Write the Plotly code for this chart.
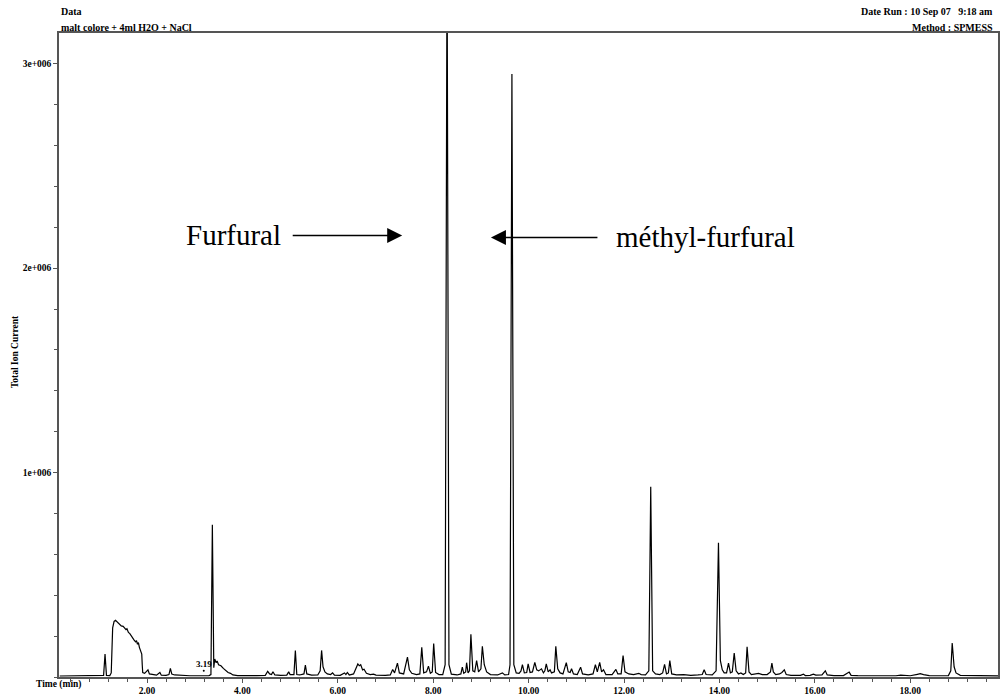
import plotly.graph_objects as go

# Total ion current trace: retention time (min) and intensity (counts)
rt_min = [
    0.17, 0.60, 1.05, 1.09, 1.12, 1.15, 1.22, 1.25, 1.28, 1.31, 1.34, 1.38, 1.42, 1.46, 1.50,
    1.53, 1.56, 1.58, 1.61, 1.64, 1.67, 1.70, 1.73, 1.76, 1.78, 1.80, 1.82, 1.84, 1.87, 1.89,
    1.90, 1.91, 1.95, 1.98, 2.02, 2.05, 2.12, 2.20, 2.27, 2.30, 2.40, 2.46, 2.49, 2.52, 2.58,
    2.70, 2.90, 3.10, 3.30, 3.34, 3.37, 3.40, 3.42, 3.45, 3.47, 3.50, 3.55, 3.60, 3.65, 3.70,
    3.75, 3.80, 3.90, 4.10, 4.30, 4.48, 4.53, 4.57, 4.61, 4.64, 4.68, 4.80, 4.93, 4.97, 5.00,
    5.08, 5.11, 5.14, 5.20, 5.29, 5.32, 5.35, 5.45, 5.58, 5.63, 5.66, 5.69, 5.73, 5.78, 5.85,
    5.89, 5.93, 6.05, 6.14, 6.17, 6.20, 6.24, 6.33, 6.38, 6.42, 6.45, 6.48, 6.52, 6.55, 6.60,
    6.68, 6.75, 6.80, 7.00, 7.10, 7.15, 7.19, 7.25, 7.29, 7.38, 7.46, 7.50, 7.55, 7.65, 7.72,
    7.76, 7.80, 7.86, 7.90, 7.94, 7.98, 8.01, 8.05, 8.12, 8.20, 8.25, 8.29, 8.33, 8.38, 8.50,
    8.58, 8.61, 8.64, 8.68, 8.70, 8.73, 8.76, 8.79, 8.83, 8.87, 8.91, 8.95, 9.00, 9.03, 9.07,
    9.12, 9.20, 9.35, 9.45, 9.50, 9.58, 9.61, 9.65, 9.69, 9.74, 9.80, 9.84, 9.87, 9.91, 9.96,
    9.99, 10.03, 10.08, 10.13, 10.17, 10.21, 10.27, 10.31, 10.34, 10.37, 10.41, 10.45, 10.48, 10.54, 10.57,
    10.61, 10.66, 10.72, 10.79, 10.83, 10.87, 10.90, 10.94, 11.02, 11.09, 11.13, 11.25, 11.35, 11.40, 11.44,
    11.49, 11.53, 11.57, 11.62, 11.75, 11.83, 11.87, 11.94, 11.98, 12.02, 12.10, 12.20, 12.31, 12.36, 12.45,
    12.52, 12.56, 12.60, 12.66, 12.75, 12.81, 12.85, 12.89, 12.93, 12.96, 13.00, 13.10, 13.25, 13.40, 13.55,
    13.64, 13.68, 13.72, 13.85, 13.93, 13.98, 14.02, 14.06, 14.10, 14.15, 14.19, 14.23, 14.27, 14.31, 14.35,
    14.40, 14.45, 14.50, 14.55, 14.58, 14.62, 14.67, 14.75, 14.82, 14.90, 15.00, 15.07, 15.10, 15.13, 15.18,
    15.26, 15.31, 15.36, 15.40, 15.50, 15.70, 15.76, 15.80, 15.90, 15.97, 16.02, 16.15, 16.22, 16.26, 16.40,
    16.60, 16.72, 16.76, 16.90, 17.10, 17.40, 17.70, 17.80, 18.00, 18.15, 18.21, 18.28, 18.40, 18.60, 18.80,
    18.85, 18.88, 18.92, 18.96, 19.05, 19.20, 19.50, 19.85,
]
tic_counts = [
    5000, 5000, 6000, 8000, 112000, 8000, 7000, 20000, 240000, 272000, 277000, 268000, 262000, 250000, 248000,
    238000, 232000, 236000, 218000, 212000, 200000, 195000, 180000, 172000, 178000, 160000, 168000, 145000, 125000, 112000,
    60000, 22000, 18000, 25000, 35000, 15000, 12000, 9000, 22000, 9000, 8000, 12000, 42000, 14000, 10000,
    8000, 6000, 6000, 7000, 12000, 745000, 45000, 88000, 70000, 78000, 60000, 55000, 42000, 30000, 22000,
    18000, 10000, 7000, 6000, 7000, 8000, 28000, 15000, 12000, 26000, 10000, 8000, 9000, 25000, 12000,
    12000, 130000, 12000, 10000, 15000, 58000, 15000, 9000, 10000, 30000, 130000, 50000, 25000, 15000, 12000,
    20000, 9000, 8000, 20000, 12000, 22000, 10000, 15000, 45000, 64000, 55000, 60000, 35000, 38000, 18000,
    12000, 14000, 9000, 8000, 10000, 37000, 20000, 68000, 20000, 15000, 97000, 35000, 18000, 12000, 15000,
    145000, 20000, 25000, 53000, 18000, 25000, 164000, 22000, 12000, 12000, 60000, 3600000, 60000, 14000, 10000,
    15000, 48000, 18000, 25000, 70000, 20000, 30000, 209000, 30000, 25000, 80000, 25000, 40000, 150000, 60000,
    25000, 12000, 10000, 20000, 10000, 12000, 60000, 2950000, 60000, 20000, 18000, 30000, 60000, 20000, 22000,
    64000, 22000, 25000, 72000, 35000, 30000, 40000, 20000, 30000, 64000, 25000, 35000, 20000, 25000, 150000,
    40000, 20000, 15000, 70000, 25000, 22000, 40000, 15000, 12000, 48000, 15000, 10000, 15000, 60000, 25000,
    72000, 25000, 35000, 12000, 12000, 37000, 15000, 15000, 105000, 25000, 15000, 12000, 18000, 12000, 10000,
    30000, 930000, 30000, 15000, 12000, 20000, 62000, 15000, 20000, 80000, 15000, 10000, 12000, 8000, 10000,
    12000, 35000, 12000, 10000, 30000, 657000, 80000, 35000, 20000, 20000, 68000, 20000, 25000, 117000, 30000,
    15000, 20000, 12000, 20000, 148000, 25000, 12000, 15000, 18000, 12000, 12000, 25000, 68000, 25000, 12000,
    15000, 22000, 35000, 12000, 8000, 8000, 14000, 7000, 8000, 14000, 9000, 10000, 30000, 10000, 7000,
    7000, 24000, 8000, 7000, 6000, 7000, 6000, 9000, 6000, 13000, 16000, 12000, 7000, 6000, 7000,
    30000, 166000, 50000, 20000, 8000, 8000, 6000, 5000,
]

x_tick_vals = [2, 4, 6, 8, 10, 12, 14, 16, 18]
x_tick_text = ["2.00", "4.00", "6.00", "8.00", "10.00", "12.00", "14.00", "16.00", "18.00"]
y_tick_vals = [1e6, 2e6, 3e6]
y_tick_text = ["1e+006", "2e+006", "3e+006"]

# Retention-time marker written by the acquisition software
marked_rt = [3.19]
marked_rt_text = ["3.19"]

# Labelled compounds with the point each arrow indicates
peak_labels = ["Furfural", "méthyl-furfural"]
peak_label_tip_rt = [7.35, 9.21]
peak_label_tip_y = [2.16e6, 2.15e6]

SERIF = "Liberation Serif, Times New Roman, serif"
AXIS_COLOR = "#555555"

fig = go.Figure()
fig.add_trace(
    go.Scatter(
        x=rt_min,
        y=tic_counts,
        mode="lines",
        line=dict(color="black", width=1.2),
        hoverinfo="x+y",
        showlegend=False,
    )
)
# small dot under the retention-time marker label
fig.add_trace(
    go.Scatter(
        x=marked_rt,
        y=[30000] * len(marked_rt),
        mode="markers",
        marker=dict(color="black", size=2),
        hoverinfo="skip",
        showlegend=False,
    )
)

# Plot area geometry in pixels (used for paper-coordinate annotations)
L, R, T, B = 59, 1000, 33, 685


def px_x(px):
    return (px - L) / (R - L)


def px_y(py):
    return (B - py) / (B - T)


small_bold = dict(family=SERIF, size=9.5, color="black", weight="bold")
header_bold = dict(family=SERIF, size=10, color="black", weight="bold")
label_font = dict(family=SERIF, size=29, color="black")

annotations = [
    dict(text="Data", x=px_x(59), y=px_y(11), xref="paper", yref="paper",
         xanchor="left", yanchor="middle", showarrow=False, font=header_bold),
    dict(text="malt colore + 4ml H2O + NaCl", x=px_x(59), y=px_y(27), xref="paper", yref="paper",
         xanchor="left", yanchor="middle", showarrow=False, font=header_bold),
    dict(text="Date Run : 10 Sep 07\u00a0\u00a0\u00a09:18 am", x=px_x(997), y=px_y(11),
         xref="paper", yref="paper", xanchor="right", yanchor="middle", showarrow=False,
         font=header_bold),
    dict(text="Method : SPMESS", x=px_x(997), y=px_y(27), xref="paper", yref="paper",
         xanchor="right", yanchor="middle", showarrow=False, font=header_bold),
    dict(text="Total Ion Current", x=px_x(15), y=px_y(356), xref="paper", yref="paper",
         xanchor="center", yanchor="middle", textangle=-90, showarrow=False, font=small_bold),
    dict(text="Time (min)", x=px_x(58), y=px_y(693), xref="paper", yref="paper",
         xanchor="center", yanchor="middle", showarrow=False, font=small_bold),
    dict(text=marked_rt_text[0], x=marked_rt[0], y=64000, xref="x", yref="y",
         xanchor="center", yanchor="middle", showarrow=False,
         font=dict(family=SERIF, size=9, color="black", weight="bold")),
    # Furfural: text to the left, arrow pointing right
    dict(text=peak_labels[0], x=4.86, y=peak_label_tip_y[0], xref="x", yref="y",
         xanchor="right", yanchor="middle", showarrow=False, font=label_font),
    dict(text="", x=peak_label_tip_rt[0], y=peak_label_tip_y[0], xref="x", yref="y",
         ax=-111, ay=0, showarrow=True, arrowhead=2, arrowsize=2, arrowwidth=1.5,
         arrowcolor="black"),
    # Methyl-furfural: text to the right, arrow pointing left
    dict(text=peak_labels[1], x=11.78, y=peak_label_tip_y[1], xref="x", yref="y",
         xanchor="left", yanchor="middle", showarrow=False, font=label_font),
    dict(text="", x=peak_label_tip_rt[1], y=peak_label_tip_y[1], xref="x", yref="y",
         ax=108, ay=0, showarrow=True, arrowhead=2, arrowsize=2, arrowwidth=1.5,
         arrowcolor="black"),
]

fig.update_layout(
    width=1002,
    height=698,
    autosize=False,
    margin=dict(l=L, r=1002 - R, t=T, b=698 - B),
    paper_bgcolor="white",
    plot_bgcolor="white",
    annotations=annotations,
    xaxis=dict(
        range=[0.155, 19.84],
        tickvals=x_tick_vals,
        ticktext=x_tick_text,
        ticks="outside",
        ticklen=4,
        tickwidth=1,
        tickcolor=AXIS_COLOR,
        tickfont=small_bold,
        showgrid=False,
        zeroline=False,
        showline=True,
        linecolor=AXIS_COLOR,
        linewidth=1.5,
        mirror=True,
        minor=dict(dtick=0.4, tick0=0, ticks="outside", ticklen=3, tickcolor=AXIS_COLOR,
                   showgrid=False),
    ),
    yaxis=dict(
        range=[0, 3.15e6],
        tickvals=y_tick_vals,
        ticktext=y_tick_text,
        ticks="outside",
        ticklen=4,
        tickwidth=1,
        tickcolor=AXIS_COLOR,
        tickfont=small_bold,
        showgrid=False,
        zeroline=False,
        showline=True,
        linecolor=AXIS_COLOR,
        linewidth=1.5,
        mirror=True,
        minor=dict(dtick=2e5, tick0=0, ticks="outside", ticklen=3, tickcolor=AXIS_COLOR,
                   showgrid=False),
    ),
)

fig.write_html("out.html")
